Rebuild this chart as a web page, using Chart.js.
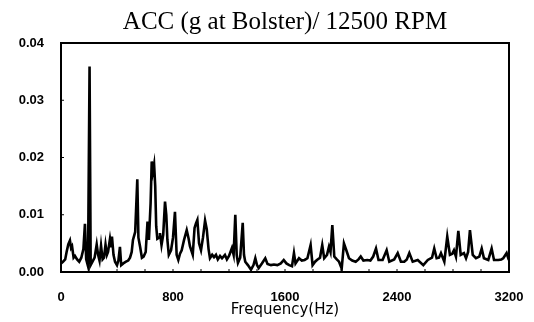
<!DOCTYPE html>
<html lang="en">

<head>
    <meta charset="UTF-8">
    <title>ACC (g at Bolster) / 12500 RPM</title>
    <script src="https://cdn.jsdelivr.net/npm/chart.js@4.4.1/dist/chart.umd.min.js"></script>
    <style>
        body { margin: 0; background: #fff; }
        #wrap { width: 534px; height: 322px; }
    </style>
</head>

<body>
    <div id="wrap"><canvas id="spectrum"></canvas></div>

    <script>
        // spectrum: frequency (Hz) and amplitude (g)
        const freq = [
            0, 14, 30, 40, 52, 64, 72, 79, 90, 100, 115, 130, 145, 160, 171, 180, 193, 204, 212, 225,
            240, 255, 265, 275, 286, 297, 307, 318, 328, 336, 350, 358, 364, 375, 386, 400, 410, 421, 430, 445,
            464, 480, 493, 505, 514, 530, 545, 553, 565, 578, 590, 605, 618, 628, 640, 648, 656, 665, 673, 680,
            688, 700, 707, 718, 730, 743, 752, 760, 770, 786, 800, 814, 826, 838, 850, 862, 879, 898, 911, 921,
            941, 954, 964, 974, 986, 1000, 1014, 1029, 1041, 1054, 1064, 1080, 1093, 1107, 1120, 1136, 1150, 1171, 1185, 1200,
            1221, 1233, 1245, 1255, 1264, 1280, 1298, 1307, 1316, 1335, 1357, 1375, 1388, 1400, 1412, 1435, 1459, 1475, 1500, 1521,
            1545, 1570, 1591, 1610, 1630, 1650, 1664, 1675, 1700, 1720, 1740, 1760, 1783, 1797, 1815, 1828, 1850, 1866, 1880, 1900,
            1914, 1925, 1938, 1952, 1970, 1986, 2005, 2021, 2038, 2057, 2080, 2105, 2125, 2141, 2160, 2188, 2210, 2230, 2250, 2268,
            2297, 2326, 2345, 2380, 2405, 2428, 2452, 2470, 2488, 2512, 2548, 2588, 2620, 2650, 2666, 2683, 2700, 2714, 2738, 2759,
            2778, 2795, 2807, 2821, 2838, 2855, 2878, 2893, 2908, 2921, 2941, 2964, 2988, 3005, 3021, 3052, 3076, 3093, 3124, 3145,
            3159, 3183, 3195, 3200
        ];
        const amp = [
            0.0015, 0.0018, 0.0022, 0.0035, 0.0048, 0.0055, 0.0042, 0.0045, 0.0025, 0.0028, 0.0022, 0.0018, 0.0025, 0.0040, 0.0084, 0.0022, 0.0010, 0.0359, 0.0012, 0.0018,
            0.0025, 0.0048, 0.0030, 0.0020, 0.0046, 0.0022, 0.0025, 0.0048, 0.0030, 0.0035, 0.0058, 0.0045, 0.0062, 0.0030, 0.0018, 0.0012, 0.0020, 0.0044, 0.0012, 0.0015,
            0.0018, 0.0020, 0.0025, 0.0035, 0.0056, 0.0070, 0.0162, 0.0060, 0.0044, 0.0025, 0.0027, 0.0035, 0.0088, 0.0056, 0.0120, 0.0193, 0.0175, 0.0188, 0.0150, 0.0080,
            0.0058, 0.0060, 0.0068, 0.0047, 0.0065, 0.0123, 0.0100, 0.0056, 0.0030, 0.0038, 0.0060, 0.0105, 0.0030, 0.0021, 0.0032, 0.0038, 0.0056, 0.0073, 0.0059, 0.0045,
            0.0030, 0.0077, 0.0085, 0.0091, 0.0050, 0.0038, 0.0060, 0.0090, 0.0075, 0.0040, 0.0024, 0.0030, 0.0026, 0.0030, 0.0022, 0.0028, 0.0024, 0.0030, 0.0022, 0.0028,
            0.0042, 0.0030, 0.0100, 0.0030, 0.0016, 0.0025, 0.0086, 0.0030, 0.0018, 0.0012, 0.0004, 0.0012, 0.0024, 0.0012, 0.0007, 0.0015, 0.0024, 0.0014, 0.0012, 0.0013,
            0.0012, 0.0015, 0.0021, 0.0015, 0.0012, 0.0010, 0.0033, 0.0015, 0.0024, 0.0020, 0.0021, 0.0024, 0.0047, 0.0012, 0.0018, 0.0021, 0.0025, 0.0047, 0.0024, 0.0030,
            0.0044, 0.0035, 0.0082, 0.0027, 0.0022, 0.0018, 0.0006, 0.0050, 0.0038, 0.0024, 0.0020, 0.0018, 0.0022, 0.0027, 0.0020, 0.0021, 0.0020, 0.0027, 0.0041, 0.0021,
            0.0021, 0.0038, 0.0018, 0.0022, 0.0033, 0.0018, 0.0018, 0.0022, 0.0033, 0.0018, 0.0021, 0.0012, 0.0021, 0.0025, 0.0041, 0.0024, 0.0025, 0.0033, 0.0018, 0.0062,
            0.0030, 0.0032, 0.0038, 0.0027, 0.0072, 0.0030, 0.0033, 0.0024, 0.0035, 0.0073, 0.0030, 0.0024, 0.0027, 0.0041, 0.0024, 0.0021, 0.0041, 0.0021, 0.0021, 0.0022,
            0.0024, 0.0033, 0.0024, 0.0025
        ];
        const xTicks = [0, 800, 1600, 2400, 3200];
        const yTicks = [0.00, 0.01, 0.02, 0.03, 0.04];
        const xMinor = [200, 400, 600, 800, 1000, 1200, 1400, 1600, 1800, 2000, 2200, 2400, 2600, 2800, 3000];

        const points = freq.map((f, i) => ({ x: f, y: amp[i] }));

        // box round the plot plus the small inward tick marks
        const framePlugin = {
            id: 'frame',
            afterDraw(chart) {
                const { ctx, chartArea: a, scales: { x, y } } = chart;
                ctx.save();
                ctx.strokeStyle = '#000';
                ctx.lineWidth = 2;
                ctx.strokeRect(a.left, a.top, a.width, a.height);
                ctx.lineWidth = 1;
                ctx.beginPath();
                xMinor.forEach(v => {
                    const px = x.getPixelForValue(v);
                    ctx.moveTo(px, a.bottom);
                    ctx.lineTo(px, a.bottom - 3);
                });
                yTicks.forEach(v => {
                    const py = y.getPixelForValue(v);
                    ctx.moveTo(a.left, py);
                    ctx.lineTo(a.left + 3, py);
                });
                ctx.stroke();
                ctx.restore();
            }
        };

        new Chart(document.getElementById('spectrum'), {
            type: 'line',
            data: {
                datasets: [{
                    data: points,
                    borderColor: '#000',
                    borderWidth: 2.6,
                    pointRadius: 0,
                    tension: 0,
                    fill: false
                }]
            },
            options: {
                responsive: true,
                maintainAspectRatio: false,
                animation: false,
                layout: { padding: { left: 0, right: 25, top: 0, bottom: 0 } },
                plugins: {
                    legend: { display: false },
                    tooltip: { enabled: false },
                    title: {
                        display: true,
                        fullSize: false,
                        text: 'ACC (g at Bolster)/ 12500 RPM',
                        color: '#000',
                        font: { family: 'Liberation Serif', size: 25, weight: 'normal' },
                        padding: { top: 7, bottom: 6 }
                    }
                },
                scales: {
                    x: {
                        type: 'linear',
                        min: 0,
                        max: 3200,
                        afterBuildTicks: s => { s.ticks = xTicks.map(v => ({ value: v })); },
                        afterFit: s => { s.height = 50; s.paddingLeft = 0; s.paddingRight = 0; },
                        grid: { display: false, drawTicks: false },
                        border: { display: false },
                        ticks: {
                            color: '#000',
                            padding: 18,
                            maxRotation: 0,
                            callback: v => String(v),
                            font: { family: 'Liberation Sans', size: 13, weight: 'bold' }
                        },
                        title: {
                            display: true,
                            text: 'Frequency(Hz)',
                            color: '#000',
                            padding: { top: 0, bottom: 3 },
                            font: { family: 'DejaVu Sans', size: 15 }
                        }
                    },
                    y: {
                        type: 'linear',
                        min: 0,
                        max: 0.04,
                        afterBuildTicks: s => { s.ticks = yTicks.map(v => ({ value: v })); },
                        afterFit: s => { s.width = 61; s.paddingTop = 0; s.paddingBottom = 0; },
                        grid: { display: false, drawTicks: false },
                        border: { display: false },
                        ticks: {
                            color: '#000',
                            padding: 17,
                            callback: v => v.toFixed(2),
                            font: { family: 'Liberation Sans', size: 13, weight: 'bold' }
                        }
                    }
                }
            },
            plugins: [framePlugin]
        });
    </script>
</body>

</html>
